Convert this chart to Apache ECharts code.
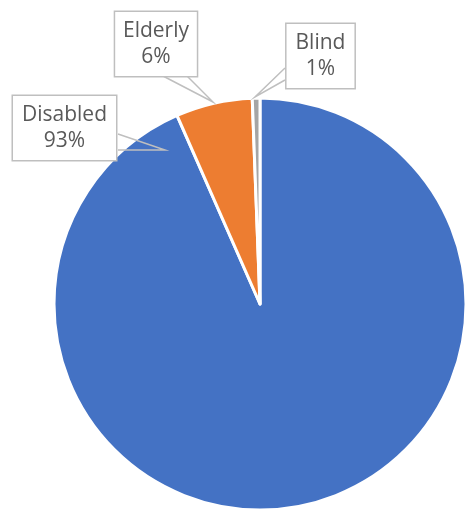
<!DOCTYPE html>
<html><head><meta charset="utf-8">
<script src="https://cdn.jsdelivr.net/npm/echarts@6/dist/echarts.min.js"></script>
<style>html,body{margin:0;padding:0;background:#fff}#c{width:465px;height:510px}</style>
</head><body><div id="c"></div>
<script>
const categories = ['Disabled', 'Elderly', 'Blind'];
const values = [93.4, 6.0, 0.6];
const colors = ['#4472C4', '#ED7D31', '#A5A5A5'];

// label box centres and callout pointer (base A, tip, base B)
const labelCenters = [[64.5, 128], [156, 44], [320.5, 56]];
const pointers = [
  [[118, 134], [165, 150], [118, 150]],
  [[163, 76], [213, 102], [187, 76]],
  [[285, 68], [255, 97], [285, 80]]
];

const pieData = categories.map((n, i) => ({name: n, value: values[i]}));
const common = {
  type: 'pie',
  center: [260, 304],
  radius: 206,
  startAngle: 90,
  clockwise: true,
  emphasis: {disabled: true},
  silent: true
};

const chart = echarts.init(document.getElementById('c'), null, {renderer: 'canvas'});
chart.setOption({
  animation: false,
  series: [
    Object.assign({}, common, {
      z: 2,
      data: pieData.map((d, i) => ({name: d.name, value: d.value, itemStyle: {color: colors[i]}})),
      itemStyle: {borderColor: '#fff', borderWidth: 3},
      label: {show: false},
      labelLine: {show: false}
    }),
    Object.assign({}, common, {
      z: 5,
      data: pieData,
      itemStyle: {color: 'rgba(0,0,0,0)', borderWidth: 0},
      label: {
        show: true,
        position: 'outside',
        overflow: 'none',
        formatter: p => p.name + '\n' + Math.round(p.percent) + '%',
        fontFamily: 'Open Sans',
        fontSize: 21,
        lineHeight: 26,
        color: '#595959',
        align: 'center',
        backgroundColor: '#fff',
        borderColor: '#bfbfbf',
        borderWidth: 1.5,
        padding: [6, 9, 6, 9]
      },
      labelLine: {show: true, lineStyle: {color: '#bfbfbf', width: 1.5}, length: 10, length2: 10, smooth: false, minTurnAngle: 0, maxSurfaceAngle: 180},
      labelLayout: p => ({
        x: labelCenters[p.dataIndex][0],
        y: labelCenters[p.dataIndex][1],
        align: 'center',
        verticalAlign: 'middle',
        labelLinePoints: pointers[p.dataIndex]
      })
    })
  ]
});
</script></body></html>
